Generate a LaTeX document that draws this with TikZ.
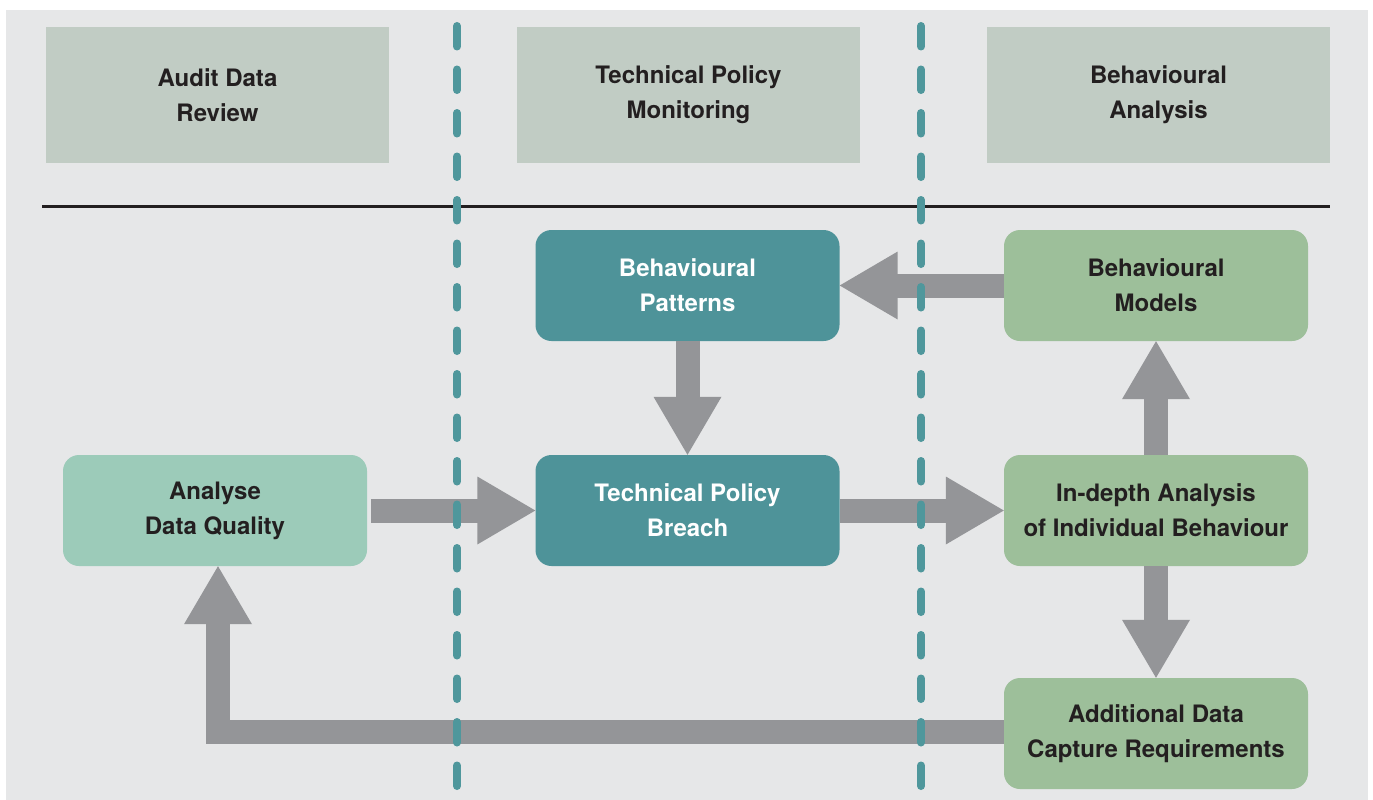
\documentclass[tikz,border=0pt]{standalone}
\usepackage{fontspec}
\setmainfont{TeX Gyre Heros}
\usetikzlibrary{calc}

\definecolor{canvas}{HTML}{E6E7E8}
\definecolor{headfill}{HTML}{C1CCC4}
\definecolor{tealbox}{HTML}{4E9399}
\definecolor{tealdash}{HTML}{4F979C}
\definecolor{greenbox}{HTML}{9DBF9A}
\definecolor{mintbox}{HTML}{9CCBB9}
\definecolor{arrowgray}{HTML}{949598}
\definecolor{ink}{HTML}{231F20}

% fat arrow head: tip at #2, pointing away from #1
\newcommand\fathead[2]{%
  \fill[arrowgray] (#2) -- ($(#2)!58pt!(#1)!34pt!90:(#1)$)
                        -- ($(#2)!58pt!(#1)!34pt!-90:(#1)$) -- cycle;}
% straight fat arrow from #1 to #2
\newcommand\fatarrow[2]{%
  \draw[shaft] (#1) -- ($(#2)!57pt!(#1)$);
  \fathead{#1}{#2}}

\begin{document}
\begin{tikzpicture}[x=1pt,y=-1pt,
  label/.style={font=\fontsize{24}{35}\selectfont\bfseries, align=center, text=ink},
  header/.style={label, fill=headfill, minimum width=343pt, minimum height=136pt, inner sep=0pt},
  box/.style={label, rounded corners=16pt, minimum width=304pt, minimum height=111pt, inner sep=0pt},
  tealnode/.style={box, fill=tealbox, text=white},
  greennode/.style={box, fill=greenbox},
  mintnode/.style={box, fill=mintbox},
  shaft/.style={draw=arrowgray, line width=24pt, line join=miter},
  lane/.style={draw=tealdash, line width=8pt, line cap=round, dash pattern=on 20.5pt off 23pt}]

\useasboundingbox (0,0) rectangle (1373,800);
\fill[canvas] (6,10) rectangle (1368,800);

% column headers
\node[header] (h1) at (217.5,95) {Audit Data\\Review};
\node[header] (h2) at (688.5,95) {Technical Policy\\Monitoring};
\node[header] (h3) at (1158.5,95) {Behavioural\\Analysis};

% separator under the headers
\coordinate (sepL) at (42,206.5);
\coordinate (sepR) at (1330,206.5);
\draw[ink, line width=3pt] (sepL) -- (sepR);

% process boxes
\node[tealnode]  (pat) at (687.5,285.5) {Behavioural\\Patterns};
\node[tealnode]  (tpb) at (687.5,510.5) {Technical Policy\\Breach};
\node[greennode] (mod) at (1156,285.5) {Behavioural\\Models};
\node[greennode] (ind) at (1156,510.5) {In-depth Analysis\\of Individual Behaviour};
\node[greennode] (adc) at (1156,733.5) {Additional Data\\Capture Requirements};
\node[mintnode]  (adq) at (215,510.5) {Analyse\\Data Quality};

% flow arrows
\coordinate (adqout) at ($(adq.east)+(4,0)$);
\fatarrow{adqout}{tpb.west}
\fatarrow{tpb.east}{ind.west}
\fatarrow{mod.west}{pat.east}
\fatarrow{pat.south}{tpb.north}
\fatarrow{ind.north}{mod.south}
\fatarrow{ind.south}{adc.north}

% feedback loop back to data quality
\coordinate (elbow) at ($(adq.south |- adc.west)+(3,-1.5)$);
\coordinate (loopend) at ($(adq.south)+(3,0)$);
\draw[shaft] ($(adc.west)+(0,-1.5)$) -- (elbow) -- ($(loopend)+(0,57)$);
\fathead{elbow}{loopend}

% swimlane dividers
\coordinate (l1t) at (457,26);  \coordinate (l1b) at (457,790);
\coordinate (l2t) at (921,26);  \coordinate (l2b) at (921,790);
\draw[lane] (l1t) -- (l1b);
\draw[lane] (l2t) -- (l2b);
\end{tikzpicture}
\end{document}
